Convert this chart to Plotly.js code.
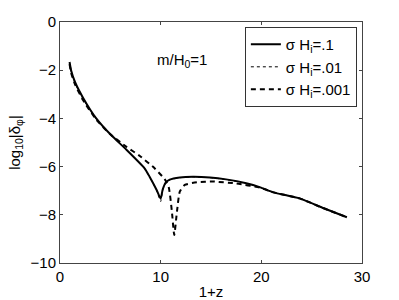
<!DOCTYPE html>
<html><head><meta charset="utf-8">
<script src="https://cdn.plot.ly/plotly-3.0.1.min.js"></script>
<style>html,body{margin:0;padding:0;background:#fff}#chart{width:399px;height:300px}</style>
</head><body><div id="chart"></div>
<script>
const solidX = [0.95,1.1,1.5,2.3,3.6,5,6.6,8.4,8.9,9.6,10.0,10.2,10.5,10.9,11.9,13.2,14.9,16.5,18.5,19.9,21.2,23.8,26.2,28.5];
const solidY = [-1.66,-2.0,-2.5,-3.15,-4.0,-4.66,-5.3,-6.07,-6.42,-6.97,-7.33,-6.95,-6.66,-6.54,-6.45,-6.42,-6.45,-6.53,-6.69,-6.86,-7.07,-7.32,-7.73,-8.1];
const dotX = [0.95,1.1,1.5,2.3,3.6,5,6.6,8.4,8.9,9.6,10.0,10.2,10.5,10.9,11.9,13.2,14.9,16.5,18.5,19.9,21.2,23.8,26.2,28.5];
const dotY = [-1.7,-2.05,-2.55,-3.2,-4.02,-4.67,-5.3,-6.07,-6.42,-6.99,-7.45,-7.0,-6.68,-6.55,-6.46,-6.43,-6.46,-6.54,-6.7,-6.87,-7.07,-7.32,-7.73,-8.1];
const dashX = [0.95,1.1,1.5,2.3,3.6,5,6.6,7.9,9.4,10.4,10.8,11.1,11.35,11.6,11.9,12.4,13.6,15.2,17.5,19.9,21.2,23.8,26.2,28.5];
const dashY = [-1.75,-2.1,-2.6,-3.25,-4.05,-4.66,-5.18,-5.55,-6.07,-6.52,-6.85,-7.8,-8.84,-7.94,-7.04,-6.76,-6.65,-6.62,-6.7,-6.88,-7.07,-7.32,-7.73,-8.1];
const names = ['σ H<sub>i</sub>=.1','σ H<sub>i</sub>=.01','σ H<sub>i</sub>=.001'];
const xTicks = [0,10,20,30];
const yTicks = [0,-2,-4,-6,-8,-10];
const yTickText = ['0','−2','−4','−6','−8','−10'];

const traces = [
  {x: solidX, y: solidY, name: names[0], mode:'lines', line:{color:'#000', width:2, dash:'solid', shape:'spline', smoothing:0.5}},
  {x: dotX, y: dotY, name: names[1], mode:'lines', line:{color:'#000', width:1, dash:'dot', shape:'spline', smoothing:0.5}},
  {x: dashX, y: dashY, name: names[2], mode:'lines', line:{color:'#000', width:2, dash:'5px,4px', shape:'spline', smoothing:0.5}}
];
const F = 'Liberation Sans, Arial, sans-serif';
const axisCommon = {showgrid:false, zeroline:false, showline:true, linecolor:'#444', linewidth:1, mirror:'ticks', ticks:'inside', ticklen:3, tickcolor:'#444', tickfont:{family:F, size:15, color:'#000'}};
const layout = {
  width:399, height:300,
  margin:{l:60, r:37, t:22, b:37},
  paper_bgcolor:'#fff', plot_bgcolor:'#fff',
  font:{family:F, size:15, color:'#000'},
  xaxis: Object.assign({}, axisCommon, {range:[0,30], tickvals:xTicks, ticktext:xTicks.map(String), title:{text:'1+z', standoff:2, font:{size:15}}}),
  yaxis: Object.assign({}, axisCommon, {range:[-10,0], tickvals:yTicks, ticktext:yTickText, title:{text:'log<sub>10</sub>|δ<sub>φ</sub>|', standoff:6, font:{size:15}}}),
  showlegend:true,
  legend:{x:0.983, y:0.979, xanchor:'right', yanchor:'top', bgcolor:'#fff', bordercolor:'#333', borderwidth:1, itemwidth:30, font:{size:15}, tracegroupgap:0},
  annotations:[{x:12.1, y:-1.58, xref:'x', yref:'y', text:'m/H<sub>0</sub>=1', showarrow:false, font:{size:15}}]
};
Plotly.newPlot('chart', traces, layout, {displayModeBar:false, staticPlot:true});
</script></body></html>
